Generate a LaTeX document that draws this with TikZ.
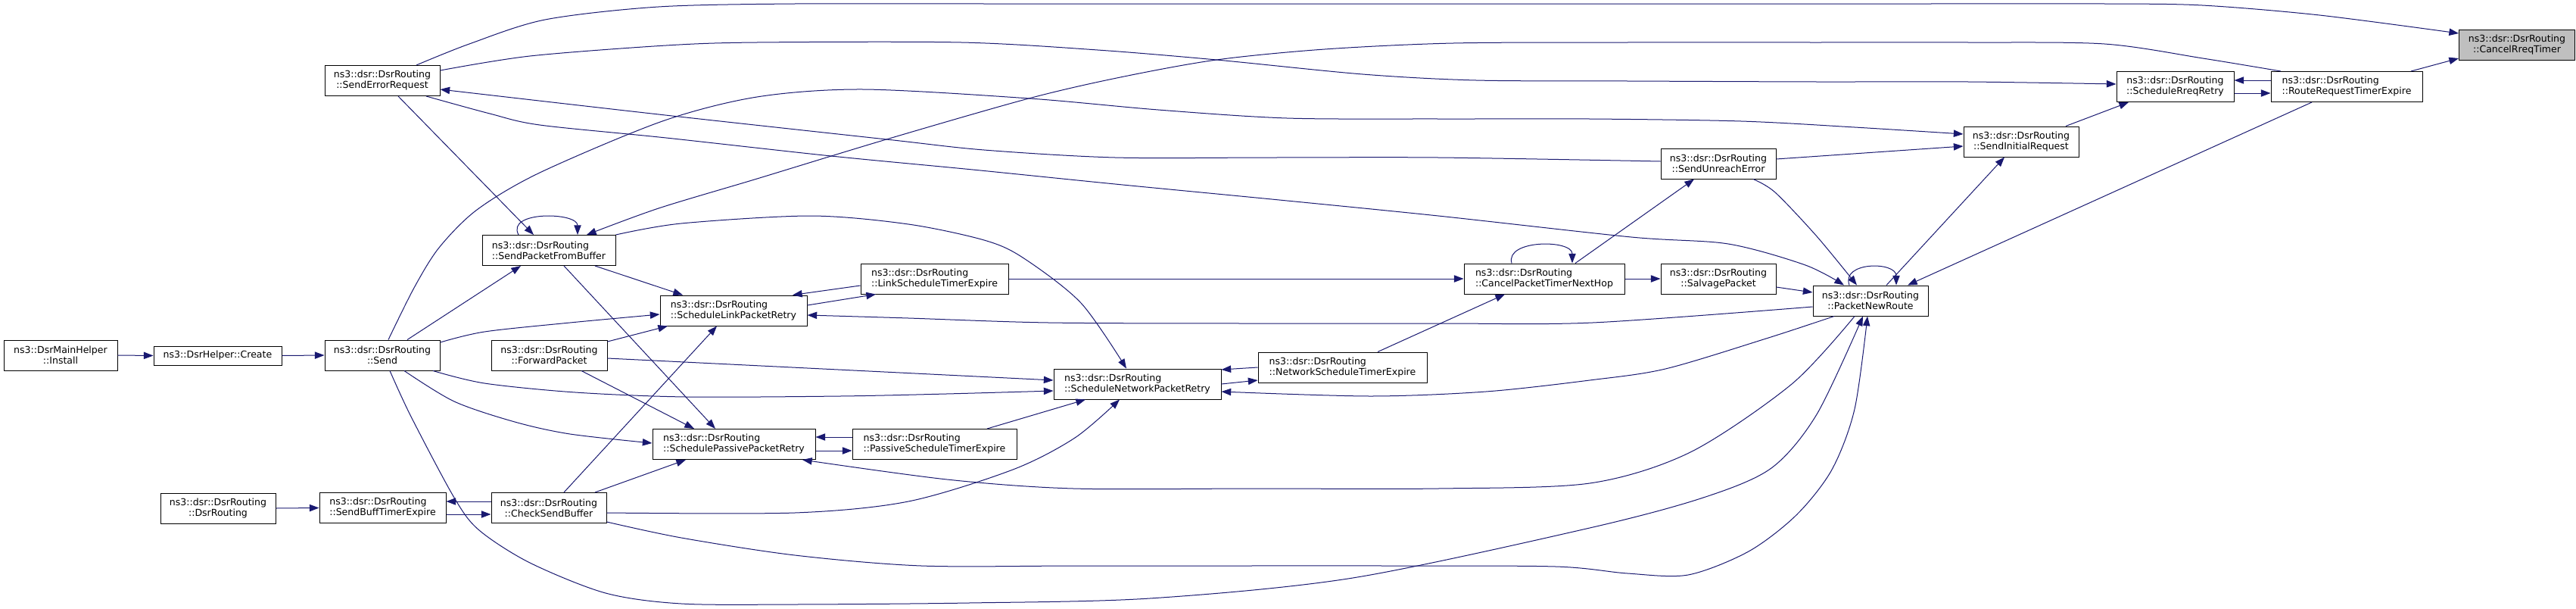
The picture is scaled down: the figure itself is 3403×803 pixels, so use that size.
\documentclass[tikz,border=0pt]{standalone}
\usepackage{fontspec}
\newfontfamily\dxfont{DejaVu Sans}
\usepackage{tikz}
\usetikzlibrary{arrows.meta}
\definecolor{dxblue}{HTML}{191970}
\definecolor{dxgrey}{HTML}{BFBFBF}
\tikzset{
  fnbox/.style={draw=black, line width=0.75pt, fill=white, inner sep=0pt, minimum height=30pt, align=center, font={\dxfont\fontsize{9.4}{10.5}\selectfont}},
  boxw/.style={minimum width=#1*0.75pt},
  callarrow/.style={draw=dxblue, line width=0.75pt, -{Triangle[length=9.5pt,width=7pt]}},
}

\begin{document}
\begin{tikzpicture}[x=0.75pt, y=-0.75pt]
\useasboundingbox (0,0) rectangle (3403,803);

\node[fnbox, boxw=150] (install) at (80,469) {ns3::DsrMainHelper\\::Install};
\node[fnbox, boxw=169, minimum height=18.75pt] (create) at (287.5,469.5) {ns3::DsrHelper::Create};
\node[fnbox, boxw=152] (dsrr) at (288,671) {ns3::dsr::DsrRouting\\::DsrRouting};
\node[fnbox, boxw=152] (send) at (505,469) {ns3::dsr::DsrRouting\\::Send};
\node[fnbox, boxw=167, align=left] (sbte) at (505.5,670.5) {ns3::dsr::DsrRouting\\::SendBuffTimerExpire};
\node[fnbox, boxw=152] (ser) at (505,106.5) {ns3::dsr::DsrRouting\\::SendErrorRequest};
\node[fnbox, boxw=176, align=left] (spfb) at (725,330.5) {ns3::dsr::DsrRouting\\::SendPacketFromBuffer};
\node[fnbox, boxw=153] (fwd) at (725.5,469) {ns3::dsr::DsrRouting\\::ForwardPacket};
\node[fnbox, boxw=152] (csb) at (725,670.5) {ns3::dsr::DsrRouting\\::CheckSendBuffer};
\node[fnbox, boxw=194, align=left] (slpr) at (969,410) {ns3::dsr::DsrRouting\\::ScheduleLinkPacketRetry};
\node[fnbox, boxw=215, align=left] (sppr) at (969.5,586.5) {ns3::dsr::DsrRouting\\::SchedulePassivePacketRetry};
\node[fnbox, boxw=195, align=left] (lste) at (1234.5,368) {ns3::dsr::DsrRouting\\::LinkScheduleTimerExpire};
\node[fnbox, boxw=217, align=left] (pste) at (1234.5,586.5) {ns3::dsr::DsrRouting\\::PassiveScheduleTimerExpire};
\node[fnbox, boxw=221, align=left] (snpr) at (1502.5,507) {ns3::dsr::DsrRouting\\::ScheduleNetworkPacketRetry};
\node[fnbox, boxw=223, align=left] (nste) at (1773.5,485) {ns3::dsr::DsrRouting\\::NetworkScheduleTimerExpire};
\node[fnbox, boxw=212, align=left] (cptnh) at (2040,368) {ns3::dsr::DsrRouting\\::CancelPacketTimerNextHop};
\node[fnbox, boxw=152] (sue) at (2270,216) {ns3::dsr::DsrRouting\\::SendUnreachError};
\node[fnbox, boxw=152] (salv) at (2270,368) {ns3::dsr::DsrRouting\\::SalvagePacket};
\node[fnbox, boxw=152] (pnr) at (2471,397) {ns3::dsr::DsrRouting\\::PacketNewRoute};
\node[fnbox, boxw=152] (sir) at (2670,187) {ns3::dsr::DsrRouting\\::SendInitialRequest};
\node[fnbox, boxw=155] (srr) at (2873.5,114.5) {ns3::dsr::DsrRouting\\::ScheduleRreqRetry};
\node[fnbox, boxw=200, align=left] (rrte) at (3100,114.5) {ns3::dsr::DsrRouting\\::RouteRequestTimerExpire};
\node[fnbox, boxw=153, fill=dxgrey] (crt) at (3325,59.5) {ns3::dsr::DsrRouting\\::CancelRreqTimer};

\draw[callarrow] (install.east) -- (create.west);
\draw[callarrow] (create.east) -- (send.west);
\draw[callarrow] (dsrr.east) -- (sbte.west);
\draw[callarrow] (sbte.east |- 0,679) -- (csb.west |- 0,679);
\draw[callarrow] (csb.west |- 0,662) -- (sbte.east |- 0,662);

\draw[callarrow] (send.north -| 538,0) -- (spfb.south -| 688,0);
\draw[callarrow] plot [smooth] coordinates {(send.east |- 0,452) (640,438) (753,426) (slpr.west |- 0,415)};
\draw[callarrow] plot [smooth] coordinates {(send.south -| 572,0) (640,506) (760,518) (906,524) (1110,523) (1250,520) (snpr.west |- 0,516)};
\draw[callarrow] plot [smooth] coordinates {(send.south -| 534,0) (600,530) (680,557) (753,573) (sppr.west |- 0,585)};
\draw[callarrow] plot [smooth] coordinates {(send.north -| 513,0) (547,380) (580,327) (630,277) (713,228) (875,160) (1000,128) (1140,118) (1360,130) (1530,145) (1700,156) (1900,157) (2100,157) (2300,160) (2450,168) (sir.west |- 0,177)};
\draw[callarrow] plot [smooth] coordinates {(send.south -| 515,0) (543,550) (600,657) (633,700) (700,743) (800,783) (900,797) (1050,798) (1280,796) (1519,790) (1787,763) (2100,697) (2250,657) (2340,618) (2400,547) (pnr.south -| 2461,0)};

\draw[callarrow] plot [smooth] coordinates {(ser.north -| 550,0) (620,58) (720,26) (870,9) (1050,5) (1300,5) (1550,5) (1800,5) (2050,5) (2300,5) (2550,5) (2780,5) (2909,7) (3064,20) (crt.west |- 0,44)};
\draw[callarrow] plot [smooth] coordinates {(ser.east |- 0,93) (700,74) (880,60) (1000,56) (1270,56) (1450,66) (1607,79) (1800,98) (1950,106) (2150,107) (2400,108) (2600,108) (srr.west |- 0,111)};
\draw[callarrow] plot [smooth] coordinates {(ser.south -| 563,0) (647,150) (713,165) (880,182) (1098,206) (1285,224) (1473,243) (1690,264) (1900,285) (2155,313) (2283,322) (2385,350) (pnr.north -| 2436,0)};
\draw[callarrow] (ser.south -| 526,0) -- (spfb.north -| 705,0);

\draw[callarrow] plot [smooth] coordinates {(rrte.north -| 3013,0) (2910,77) (2780,58) (2600,56) (2400,56) (2150,56) (1920,57) (1750,65) (1607,79) (1480,102) (1359,130) (1171,184) (1000,236) (870,275) (spfb.north -| 775,0)};
\draw[callarrow] plot [smooth] coordinates {(sue.west |- 0,213) (1900,208) (1680,208) (1473,208) (1300,198) (1171,184) (870,151) (ser.east |- 0,118)};

\draw[callarrow] (spfb.north -| 685,0) .. controls (668,278) and (763,280) .. (spfb.north -| 763,0);
\draw[callarrow] (spfb.south -| 786,0) -- (slpr.north -| 902,0);
\draw[callarrow] (spfb.south -| 745,0) -- (sppr.north -| 945,0);
\draw[callarrow] plot [smooth] coordinates {(spfb.east |- 0,310) (900,295) (1071,285) (1200,296) (1300,317) (1351,340) (1428,400) (snpr.north -| 1488,0)};

\draw[callarrow] (fwd.east |- 0,451) -- (slpr.south -| 882,0);
\draw[callarrow] (fwd.east |- 0,473) -- (snpr.west |- 0,502);
\draw[callarrow] (fwd.south -| 768,0) -- (sppr.north -| 917,0);

\draw[callarrow] (csb.north -| 745,0) -- (slpr.south -| 947,0);
\draw[callarrow] (csb.north -| 786,0) -- (sppr.south -| 906,0);
\draw[callarrow] plot [smooth] coordinates {(csb.east |- 0,677) (1050,677) (1200,662) (1338,620) (1420,578) (snpr.south -| 1479,0)};
\draw[callarrow] plot [smooth] coordinates {(csb.east |- 0,689) (900,710) (1050,733) (1217,747) (1420,747) (1620,747) (1830,747) (2055,748) (2150,757) (2230,759) (2310,728) (2373,680) (2420,620) (2450,540) (pnr.south -| 2467,0)};

\draw[callarrow] plot [smooth] coordinates {(pnr.west |- 0,405) (2104,426) (1900,427) (1640,427) (1385,426) (1200,420) (slpr.east |- 0,416)};
\draw[callarrow] plot [smooth] coordinates {(pnr.south -| 2423,0) (2333,447) (2200,487) (2100,502) (1963,517) (1810,523) (snpr.east |- 0,517)};
\draw[callarrow] plot [smooth] coordinates {(pnr.south -| 2450,0) (2367,507) (2233,597) (2100,638) (1900,645) (1660,645) (1418,645) (1251,633) (sppr.south -| 1060,0)};
\draw[callarrow] (pnr.north -| 2443,0) .. controls (2432,345) and (2505,345) .. (pnr.north -| 2505,0);
\draw[callarrow] (pnr.north -| 2492,0) -- (sir.south -| 2648,0);

\draw[callarrow] (sue.east |- 0,210) -- (sir.west |- 0,193);
\draw[callarrow] plot [smooth] coordinates {(sue.south -| 2316,0) (2345,254) (2400,312) (pnr.north -| 2453,0)};
\draw[callarrow] (salv.east |- 0,379) -- (pnr.west |- 0,386);

\draw[callarrow] (cptnh.east) -- (salv.west);
\draw[callarrow] (cptnh.north -| 2081,0) -- (sue.south -| 2238,0);
\draw[callarrow] (cptnh.north -| 1997,0) .. controls (1988,316) and (2077,316) .. (cptnh.north -| 2077,0);

\draw[callarrow] (lste.east) -- (cptnh.west);
\draw[callarrow] (lste.west |- 0,377) -- (slpr.north -| 1047,0);
\draw[callarrow] (slpr.east |- 0,403) -- (lste.south -| 1157,0);

\draw[callarrow] (nste.north -| 1820,0) -- (cptnh.south -| 1988,0);
\draw[callarrow] (nste.west |- 0,485) -- (snpr.east |- 0,488);
\draw[callarrow] (snpr.east |- 0,507) -- (nste.west |- 0,502);

\draw[callarrow] (pste.north -| 1304,0) -- (snpr.south -| 1434,0);
\draw[callarrow] (pste.west |- 0,577) -- (sppr.east |- 0,577);
\draw[callarrow] (sppr.east |- 0,595) -- (pste.west |- 0,595);

\draw[callarrow] (sir.north -| 2729,0) -- (srr.south -| 2812,0);
\draw[callarrow] (rrte.west |- 0,106) -- (srr.east |- 0,106);
\draw[callarrow] (srr.east |- 0,123) -- (rrte.west |- 0,123);
\draw[callarrow] (rrte.north -| 3185,0) -- (crt.west |- 0,77);
\draw[callarrow] (rrte.south -| 3054,0) -- (pnr.north -| 2520,0);
\end{tikzpicture}
\end{document}
